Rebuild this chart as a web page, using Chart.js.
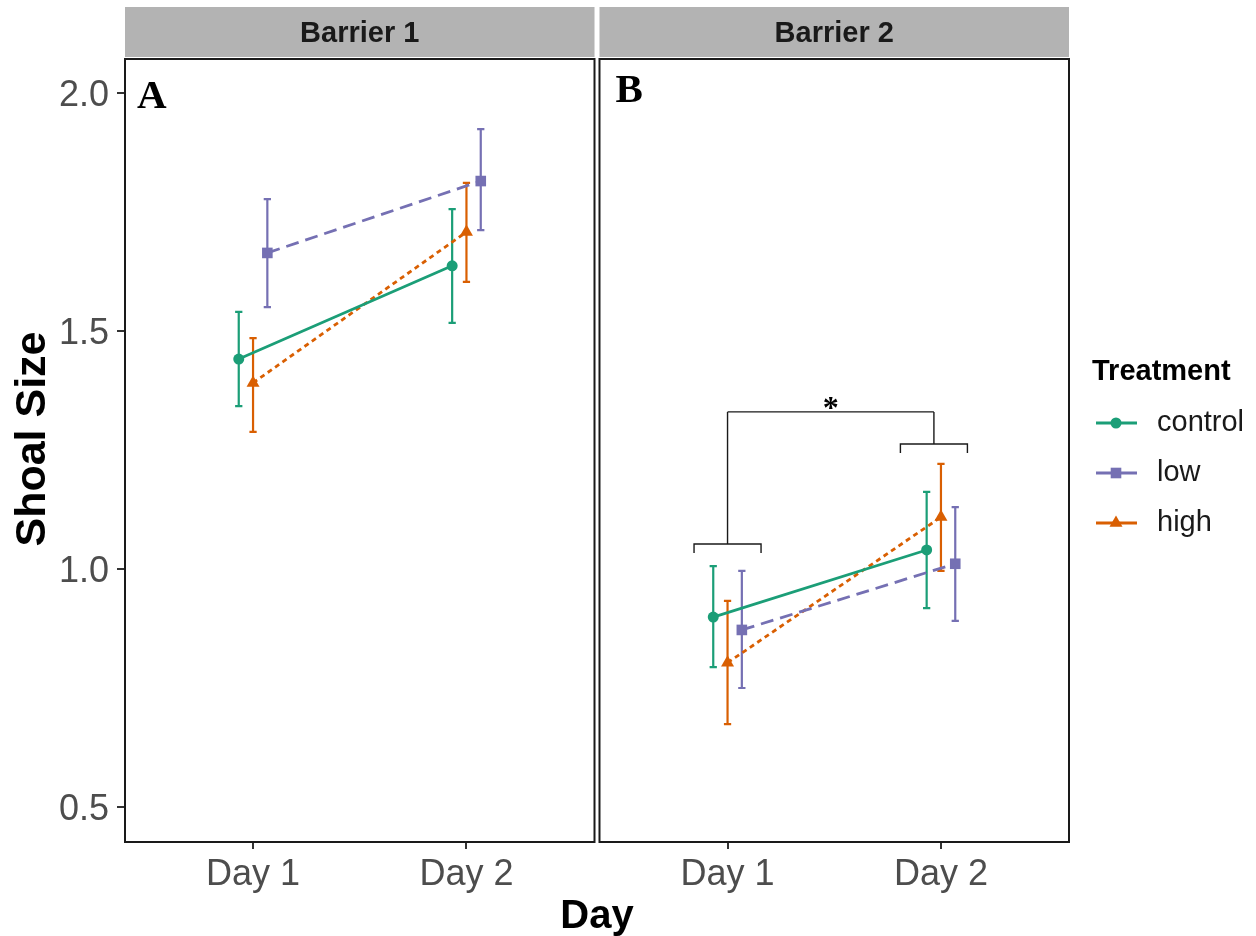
<!DOCTYPE html>
<html>
<head>
<meta charset="utf-8">
<title>Shoal size by day and treatment</title>
<script src="https://cdn.jsdelivr.net/npm/chart.js@4"></script>
<style>
  html, body { margin: 0; padding: 0; background: #fff; }
  canvas { display: block; }
</style>
</head>
<body>
<canvas id="graficoShoal" width="1256" height="936"></canvas>
<script>
// Each series: [Barrier 1 Day 1, Barrier 1 Day 2, Barrier 2 Day 1, Barrier 2 Day 2]
const barriers = ['Barrier 1', 'Barrier 2'];
const panelTags = ['A', 'B'];
const days = ['Day 1', 'Day 2'];
const treatments = ['control', 'low', 'high'];

const controlMean = [1.441, 1.637, 0.899, 1.040];
const controlLo   = [1.342, 1.517, 0.794, 0.918];
const controlHi   = [1.540, 1.756, 1.006, 1.162];

const lowMean = [1.664, 1.815, 0.872, 1.011];
const lowLo   = [1.550, 1.712, 0.750, 0.891];
const lowHi   = [1.777, 1.924, 0.996, 1.130];

const highMean = [1.391, 1.708, 0.803, 1.109];
const highLo   = [1.288, 1.603, 0.674, 0.996];
const highHi   = [1.485, 1.811, 0.933, 1.221];

const yTicks = [0.5, 1.0, 1.5, 2.0];

// significance bracket in Barrier 2, Day 1 vs Day 2
const sigBaseY = [1.0525, 1.2626];
const sigTopY = 1.33;
const sigLabel = '*';

// ---- layout ----
const X_LO = 0.4, X_HI = 2.6, PANEL_GAP = 0.0234;
const panelOffset = [0, (X_HI - X_LO) + PANEL_GAP];
const dodge = { control: -0.067, high: 0, low: 0.067 };
const capHalf = 0.017;
const FONT = '"Liberation Sans", Arial, sans-serif';
const SERIF = '"Liberation Serif", "Times New Roman", serif';

const series = [
  { name: 'control', mean: controlMean, lo: controlLo, hi: controlHi, color: '#1b9e77', dash: [], point: 'circle', radius: 5.5 },
  { name: 'low', mean: lowMean, lo: lowLo, hi: lowHi, color: '#7570b3', dash: [13, 7], point: 'rect', radius: 7.5 },
  { name: 'high', mean: highMean, lo: highLo, hi: highHi, color: '#d95f02', dash: [5, 4], point: 'triangle', radius: 7.5 }
];

const xPos = (panel, day, name) => panelOffset[panel] + day + 1 + (dodge[name] || 0);

const datasets = series.map(s => {
  const pts = [];
  barriers.forEach((b, p) => {
    days.forEach((d, k) => pts.push({ x: xPos(p, k, s.name), y: s.mean[p * 2 + k] }));
    if (p === 0) pts.push({ x: panelOffset[1], y: null }); // break line between panels
  });
  return {
    label: s.name,
    data: pts,
    borderColor: s.color,
    backgroundColor: s.color,
    borderWidth: 2.8,
    borderDash: s.dash,
    pointStyle: s.point,
    pointRadius: s.radius,
    pointBorderWidth: 0,
    pointBackgroundColor: s.color,
    tension: 0,
    spanGaps: false
  };
});

// strips, borders, error bars, bracket, tags, y title and legend
const panelDecor = {
  id: 'panelDecor',
  beforeDatasetsDraw(chart) {
    const ctx = chart.ctx, xs = chart.scales.x, ys = chart.scales.y;
    ctx.save();
    ctx.lineWidth = 2.2;
    series.forEach(s => {
      ctx.strokeStyle = s.color;
      barriers.forEach((b, p) => {
        days.forEach((d, k) => {
          const i = p * 2 + k;
          const x = xs.getPixelForValue(xPos(p, k, s.name));
          const c = xs.getPixelForValue(xPos(p, k, s.name) + capHalf) - x;
          const y1 = ys.getPixelForValue(s.lo[i]), y2 = ys.getPixelForValue(s.hi[i]);
          ctx.beginPath();
          ctx.moveTo(x, y1); ctx.lineTo(x, y2);
          ctx.moveTo(x - c, y1); ctx.lineTo(x + c, y1);
          ctx.moveTo(x - c, y2); ctx.lineTo(x + c, y2);
          ctx.stroke();
        });
      });
    });
    ctx.restore();
  },
  afterDraw(chart) {
    const ctx = chart.ctx, xs = chart.scales.x, ys = chart.scales.y, area = chart.chartArea;
    ctx.save();

    barriers.forEach((b, p) => {
      const left = xs.getPixelForValue(panelOffset[p] + X_LO);
      const right = xs.getPixelForValue(panelOffset[p] + X_HI);
      // strip
      ctx.fillStyle = '#b3b3b3';
      ctx.fillRect(left, 7, right - left, 50);
      ctx.fillStyle = '#1a1a1a';
      ctx.font = 'bold 29px ' + FONT;
      ctx.textAlign = 'center';
      ctx.textBaseline = 'middle';
      ctx.fillText(b, (left + right) / 2, 34);
      // border
      ctx.strokeStyle = '#1a1a1a';
      ctx.lineWidth = 2;
      ctx.strokeRect(left, area.top, right - left, area.bottom - area.top);
      // panel tag
      ctx.fillStyle = '#000';
      ctx.font = 'bold 41px ' + SERIF;
      ctx.textAlign = 'left';
      ctx.textBaseline = 'alphabetic';
      ctx.fillText(panelTags[p], left + (p === 0 ? 12 : 16), p === 0 ? 108 : 102);
    });

    // bracket: Day 1 group vs Day 2 group in Barrier 2
    const sigCenter = [xPos(1, 0, ''), xPos(1, 1, '') - 0.033];
    const half = 0.157, drop = 0.019;
    ctx.strokeStyle = '#1a1a1a';
    ctx.lineWidth = 1.4;
    ctx.beginPath();
    sigCenter.forEach((cx, k) => {
      const l = xs.getPixelForValue(cx - half), r = xs.getPixelForValue(cx + half);
      const yb = ys.getPixelForValue(sigBaseY[k]), yd = ys.getPixelForValue(sigBaseY[k] - drop);
      ctx.moveTo(l, yd); ctx.lineTo(l, yb); ctx.lineTo(r, yb); ctx.lineTo(r, yd);
      ctx.moveTo(xs.getPixelForValue(cx), yb);
      ctx.lineTo(xs.getPixelForValue(cx), ys.getPixelForValue(sigTopY));
    });
    ctx.moveTo(xs.getPixelForValue(sigCenter[0]), ys.getPixelForValue(sigTopY));
    ctx.lineTo(xs.getPixelForValue(sigCenter[1]), ys.getPixelForValue(sigTopY));
    ctx.stroke();
    ctx.fillStyle = '#000';
    ctx.font = 'bold 32px ' + SERIF;
    ctx.textAlign = 'center';
    ctx.textBaseline = 'alphabetic';
    ctx.fillText(sigLabel, xs.getPixelForValue((sigCenter[0] + sigCenter[1]) / 2), ys.getPixelForValue(sigTopY) + 6);

    // y axis title
    ctx.save();
    ctx.translate(33, 439);
    ctx.rotate(-Math.PI / 2);
    ctx.fillStyle = '#000';
    ctx.font = 'bold 43px ' + FONT;
    ctx.textAlign = 'center';
    ctx.textBaseline = 'middle';
    ctx.fillText('Shoal Size', 0, 0);
    ctx.restore();

    // legend
    ctx.textAlign = 'left';
    ctx.textBaseline = 'middle';
    ctx.fillStyle = '#000';
    ctx.font = 'bold 29px ' + FONT;
    ctx.fillText('Treatment', 1092, 372);
    ctx.font = '29px ' + FONT;
    series.forEach((s, i) => {
      const y = 423 + i * 50;
      ctx.strokeStyle = s.color;
      ctx.lineWidth = 2.8;
      ctx.setLineDash([]);
      ctx.beginPath();
      ctx.moveTo(1096, y); ctx.lineTo(1137, y);
      ctx.stroke();
      ctx.fillStyle = s.color;
      Chart.helpers.drawPoint(ctx, { pointStyle: s.point, radius: s.radius, rotation: 0, borderWidth: 0 }, 1116, y);
      ctx.fillStyle = '#1a1a1a';
      ctx.fillText(treatments[i], 1157, y);
    });
    ctx.restore();
  }
};

const ctxShoal = document.getElementById('graficoShoal').getContext('2d');
new Chart(ctxShoal, {
  type: 'line',
  data: { datasets: datasets },
  options: {
    responsive: false,
    animation: false,
    devicePixelRatio: 1,
    layout: { padding: { top: 59, right: 187, bottom: 0, left: 0 } },
    plugins: { legend: { display: false }, tooltip: { enabled: false } },
    scales: {
      x: {
        type: 'linear',
        min: X_LO,
        max: panelOffset[1] + X_HI,
        afterFit(scale) { scale.height = 94; },
        afterBuildTicks(scale) {
          scale.ticks = [];
          barriers.forEach((b, p) => days.forEach((d, k) => scale.ticks.push({ value: xPos(p, k, '') })));
        },
        ticks: {
          callback: (v, i) => days[i % days.length],
          color: '#4d4d4d',
          font: { family: FONT, size: 36 },
          padding: 4,
          maxRotation: 0,
          autoSkip: false
        },
        grid: { drawOnChartArea: false, drawTicks: true, tickLength: 7, color: '#333', lineWidth: 2 },
        border: { display: false },
        title: {
          display: true,
          text: 'Day',
          color: '#000',
          font: { family: FONT, size: 40, weight: 'bold', lineHeight: 1 },
          padding: { top: 0, bottom: -1 }
        }
      },
      y: {
        type: 'linear',
        min: 0.4265,
        max: 2.0714,
        afterFit(scale) { scale.width = 125; },
        afterBuildTicks(scale) { scale.ticks = yTicks.map(v => ({ value: v })); },
        ticks: {
          callback: v => v.toFixed(1),
          color: '#4d4d4d',
          font: { family: FONT, size: 36 },
          padding: 8,
          labelOffset: 3
        },
        grid: { drawOnChartArea: false, drawTicks: true, tickLength: 8, color: '#333', lineWidth: 2 },
        border: { display: false }
      }
    }
  },
  plugins: [panelDecor]
});
</script>
</body>
</html>
